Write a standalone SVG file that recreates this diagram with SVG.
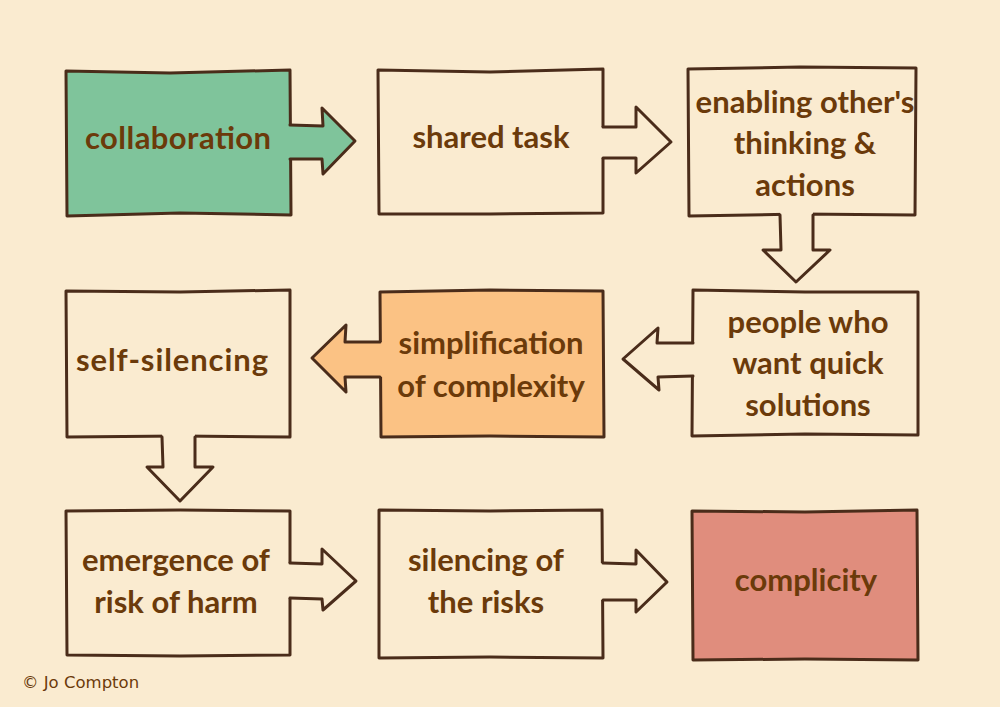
<svg xmlns="http://www.w3.org/2000/svg" width="1000" height="707" viewBox="0 0 1000 707">
<style>
.box{stroke:#4A2C1A;stroke-width:3;stroke-linejoin:round}
.bg{fill:#FAEBD0}
.green{fill:#7FC49B}
.orange{fill:#FBC284}
.red{fill:#E08D7D}
.ln{fill:none;stroke:#4A2C1A;stroke-width:3;stroke-linejoin:round;stroke-linecap:round}
.lbl{font-family:Lato,"Open Sans",sans-serif;font-weight:bold;font-size:31px;fill:#6B3A0A;text-anchor:middle}
.copy{font-family:"DejaVu Sans",sans-serif;font-size:16.5px;fill:#6B3A0A}
</style>
<rect width="1000" height="707" fill="#FAEBD0"/>
<g id="nodes">
<g id="collaboration"><path class="box green" d="M66,71 L170,73 L290,70 L291,215 L180,213 L67,216 Z"/><text class="lbl" x="178" y="149" textLength="186">collaboration</text></g>
<g id="shared-task"><path class="box bg" d="M378,70 L490,72 L603,69 L603,213 L490,214 L379,214 Z"/><text class="lbl" x="491" y="148">shared task</text></g>
<g id="enabling"><path class="box bg" d="M688,69 L800,67 L916,68 L915,215 L800,214 L689,216 Z"/><text class="lbl" x="805" y="113">enabling other's</text><text class="lbl" x="805" y="154">thinking &amp;</text><text class="lbl" x="805" y="196">actions</text></g>
<g id="people"><path class="box bg" d="M693,290 L805,292 L918,292 L918,435 L805,434 L692,436 Z"/><text class="lbl" x="808" y="333">people who</text><text class="lbl" x="808" y="374">want quick</text><text class="lbl" x="808" y="416">solutions</text></g>
<g id="simplification"><path class="box orange" d="M380,292 L490,290 L603,291 L604,437 L490,436 L381,437 Z"/><text class="lbl" x="491" y="354">simplification</text><text class="lbl" x="491" y="397">of complexity</text></g>
<g id="self-silencing"><path class="box bg" d="M66,291 L180,292 L290,290 L290,437 L180,436 L67,437 Z"/><text class="lbl" x="172" y="371" textLength="192">self-silencing</text></g>
<g id="emergence"><path class="box bg" d="M66,511 L180,510 L290,511 L290,655 L180,656 L67,655 Z"/><text class="lbl" x="176" y="571">emergence of</text><text class="lbl" x="176" y="613">risk of harm</text></g>
<g id="silencing"><path class="box bg" d="M379,510 L490,511 L602,510 L603,658 L490,657 L379,658 Z"/><text class="lbl" x="486" y="571">silencing of</text><text class="lbl" x="486" y="613">the risks</text></g>
<g id="complicity"><path class="box red" d="M692,511 L805,512 L917,510 L918,660 L805,659 L693,660 Z"/><text class="lbl" x="806" y="591">complicity</text></g>
</g>
<g id="connectors">
<g><path class="green" d="M286,125 L323,126 L322,108 L355,141 L323,174 L322,159 L286,159 Z"/><path class="ln" d="M290,125 L323,126 L322,108 L355,141 L323,174 L322,159 L290,159"/></g>
<g><path class="bg" d="M599,127 L636,127 L636,107 L671,142 L636,173 L636,158 L599,158 Z"/><path class="ln" d="M603,127 L636,127 L636,107 L671,142 L636,173 L636,158 L603,158"/></g>
<g><path class="bg" d="M780,211 L781,250 L763,250 L796,282 L830,250 L813,250 L813,211 Z"/><path class="ln" d="M780,215 L781,250 L763,250 L796,282 L830,250 L813,250 L813,215"/></g>
<g><path class="bg" d="M697,343 L657,343 L658,328 L623,359 L659,390 L658,377 L697,376 Z"/><path class="ln" d="M693,343 L657,343 L658,328 L623,359 L659,390 L658,377 L693,376"/></g>
<g><path class="orange" d="M384,342 L345,342 L346,325 L312,358 L346,392 L345,377 L384,377 Z"/><path class="ln" d="M380,342 L345,342 L346,325 L312,358 L346,392 L345,377 L380,377"/></g>
<g><path class="bg" d="M162,433 L163,467 L147,467 L180,501 L213,467 L195,467 L195,433 Z"/><path class="ln" d="M162,437 L163,467 L147,467 L180,501 L213,467 L195,467 L195,437"/></g>
<g><path class="bg" d="M286,563 L322,564 L322,549 L356,581 L323,610 L322,599 L286,598 Z"/><path class="ln" d="M290,563 L322,564 L322,549 L356,581 L323,610 L322,599 L290,598"/></g>
<g><path class="bg" d="M599,563 L636,564 L636,550 L667,582 L636,612 L636,600 L599,600 Z"/><path class="ln" d="M603,563 L636,564 L636,550 L667,582 L636,612 L636,600 L603,600"/></g>
</g>
<text class="copy" x="22" y="688">© Jo Compton</text>
</svg>
